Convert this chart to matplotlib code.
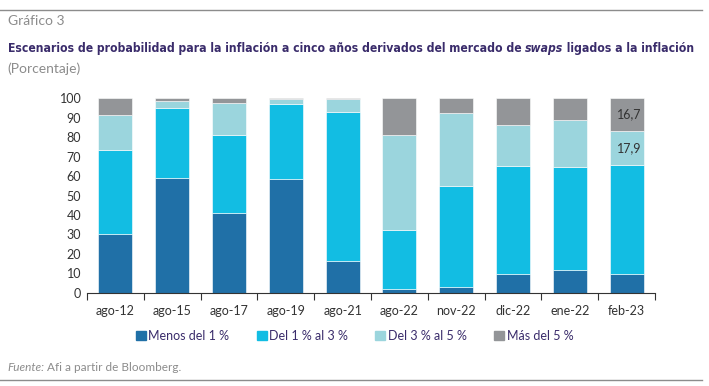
import numpy as np
import matplotlib.pyplot as plt
from matplotlib.lines import Line2D
from matplotlib import font_manager

plt.rcParams['font.family'] = ['Lato', 'DejaVu Sans']

# Data (percent)
categories = ["ago-12", "ago-15", "ago-17", "ago-19", "ago-21",
              "ago-22", "nov-22", "dic-22", "ene-22", "feb-23"]
menos_1 = [30.0, 59.1, 41.2, 58.5, 16.6, 2.2, 3.1, 9.7, 11.8, 9.7]
del_1_3 = [43.2, 35.9, 39.7, 38.6, 76.0, 29.9, 51.8, 55.4, 52.6, 55.7]
del_3_5 = [17.9, 3.3, 16.7, 2.4, 6.7, 48.8, 37.4, 20.9, 24.3, 17.9]
mas_5 = [8.9, 1.7, 2.4, 0.5, 0.7, 19.1, 7.7, 14.0, 11.3, 16.7]
series_names = ["Menos del 1 %", "Del 1 % al 3 %", "Del 3 % al 5 %", "Más del 5 %"]
colors = ["#2070a7", "#12bde3", "#9bd5dd", "#939598"]
yticks = list(range(0, 101, 10))
title_parts = ["Escenarios de probabilidad para la inflación a cinco años derivados del mercado de ",
               "swaps", " ligados a la inflación"]

# look for a condensed font for the title, otherwise Lato
cond = [f for f in font_manager.fontManager.ttflist
        if f.stretch in ("condensed", "semi-condensed", 75, 87.5) or "Condensed" in f.name
        or "Narrow" in f.name]
title_family = [cond[0].name, "Lato", "DejaVu Sans"] if cond else ["Lato", "DejaVu Sans"]
title_stretch = "condensed" if cond else "normal"

fig = plt.figure(figsize=(7.09, 3.86), dpi=100)
ax = fig.add_axes([0.1225, 0.241, 0.8015, 0.505])

x = np.arange(len(categories))
bottom = np.zeros(len(categories))
bars = []
for vals, name, col in zip([menos_1, del_1_3, del_3_5, mas_5], series_names, colors):
    b = ax.bar(x, vals, width=0.6, bottom=bottom, color=col, label=name,
               edgecolor="white", linewidth=0.4)
    bars.append(b)
    bottom += np.array(vals)

# value labels on the last bar
last = len(categories) - 1
for b, vals in [(bars[2], del_3_5), (bars[3], mas_5)]:
    r = b[last]
    ax.text(r.get_x() + r.get_width() / 2 + 0.05, r.get_y() + r.get_height() / 2,
            f"{vals[last]:.1f}".replace(".", ","), ha="center", va="center",
            fontsize=9, color="#333333")

ax.set_xlim(-0.5, len(categories) - 0.5)
ax.set_ylim(0, 100)
ax.set_yticks(yticks)
ax.set_xticks(x)
ax.set_xticklabels(categories)
ax.set_xticks(np.arange(-0.5, len(categories)), minor=True)
ax.tick_params(axis="x", which="major", length=0, pad=9, labelsize=9, labelcolor="#333333")
ax.tick_params(axis="x", which="minor", length=5, width=0.8, color="#333333", direction="out")
ax.tick_params(axis="y", length=0, pad=4, labelsize=9, labelcolor="#333333")
for s in ["top", "right", "left"]:
    ax.spines[s].set_visible(False)
ax.spines["bottom"].set_color("#333333")
ax.spines["bottom"].set_linewidth(0.8)

handles = [plt.Rectangle((0, 0), 1, 1, color=c) for c in colors]
fig.legend(handles, series_names, loc="center", bbox_to_anchor=(0.5, 0.13), ncol=4,
           frameon=False, fontsize=9, handlelength=0.8, handleheight=0.8,
           handletextpad=0.2, columnspacing=2.2, labelcolor="#3a2c6b")

# header and footer
fig.add_artist(Line2D([0.0, 0.99], [0.975, 0.975], color="#8c8c8c", lw=1))
fig.add_artist(Line2D([0.0, 0.99], [0.015, 0.015], color="#8c8c8c", lw=1))
fig.text(0.011, 0.945, "Gráfico 3", fontsize=10, color="#8c8c8c", va="center")
fig.text(0.011, 0.822, "(Porcentaje)", fontsize=10, color="#8c8c8c", va="center")
fig.text(0.011, 0.047, "Fuente:", fontsize=8.5, color="#8c8c8c", style="italic", va="center")
fig.text(0.066, 0.047, "Afi a partir de Bloomberg.", fontsize=8.5, color="#8c8c8c", va="center")

# title in three pieces (italic "swaps"), shrunk until it fits the width
renderer = fig.canvas.get_renderer()
size = 12.0
max_w = 0.985 * fig.bbox.width
while True:
    xpos = 0.011 * fig.bbox.width
    pieces = []
    for i, part in enumerate(title_parts):
        t = fig.text(xpos / fig.bbox.width, 0.875, part, fontsize=size, fontweight="bold",
                     style="italic" if i == 1 else "normal", color="#3a2c6b", va="center",
                     family=title_family, fontstretch=title_stretch)
        xpos = t.get_window_extent(renderer).x1
        pieces.append(t)
    if xpos <= max_w or size < 7:
        break
    for t in pieces:
        t.remove()
    size -= 0.1

fig.savefig("out.png", dpi=100)
